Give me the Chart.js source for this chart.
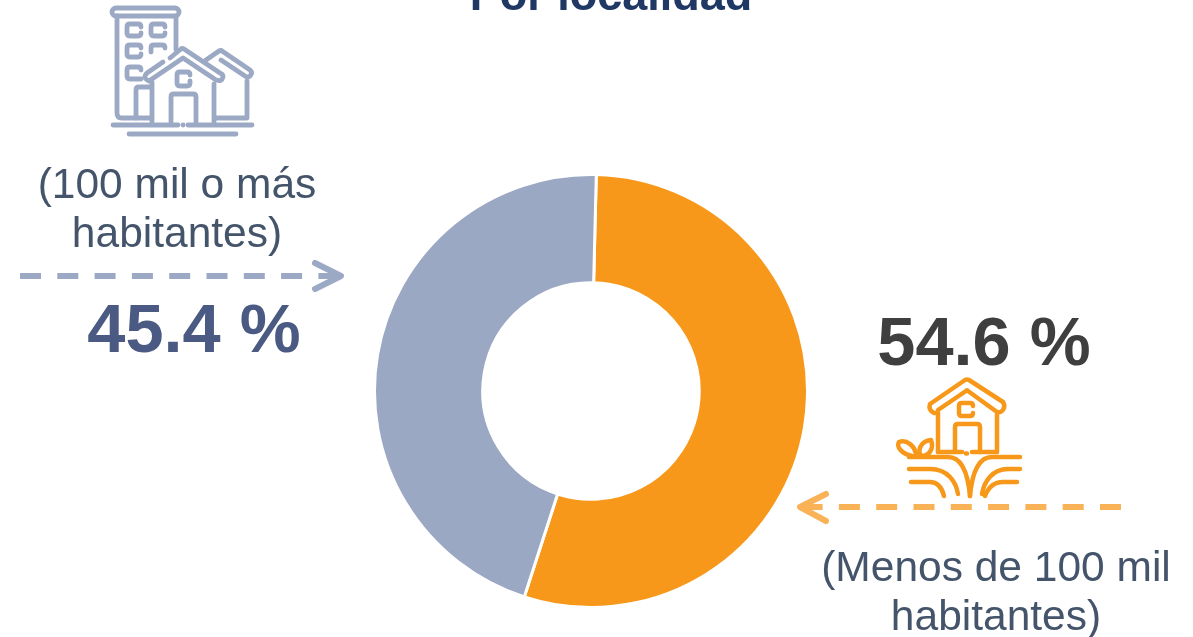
<!DOCTYPE html>
<html>
<head>
<meta charset="utf-8">
<script src="https://cdn.jsdelivr.net/npm/chart.js@4"></script>
<style>
html, body { margin: 0; padding: 0; background: #fff; overflow: hidden; }
#page { position: relative; width: 1193px; height: 637px; overflow: hidden; font-family: "Liberation Sans", Arial, sans-serif; }
#chartBox { position: absolute; left: 373px; top: 173px; width: 436px; height: 436px; }
#art { position: absolute; left: 0; top: 0; }
.txt { position: absolute; text-align: center; white-space: nowrap; }
.label { font-size: 42.500px; line-height: 49px; color: #44546A; }
.big { font-size: 68.500px; line-height: 80px; font-weight: bold; }
</style>
</head>
<body>
<div id="page">
  <div id="chartBox"><canvas id="chart1"></canvas></div>

  <svg id="art" width="1193" height="637" fill="none" stroke-linecap="round" stroke-linejoin="round">
    <!-- icono ciudad -->
    <g stroke="#9CA9C5" stroke-width="4.800">
      <rect x="112" y="8" width="67" height="8" rx="4"/>
      <path d="M117 16V113q0 5 5 5H150M176 16V50"/>
      <path d="M141 27q0-3-3-3H130q-3 0-3 3V33q0 3 3 3H138q3 0 3-3"/>
      <path d="M165 27q0-3-3-3H154q-3 0-3 3V33q0 3 3 3H162q3 0 3-3"/>
      <path d="M141 48q0-3-3-3H130q-3 0-3 3V54q0 3 3 3H138q3 0 3-3"/>
      <path d="M165 48q0-3-3-3H154q-3 0-3 3V52"/>
      <path d="M141 70q0-3-3-3H130q-3 0-3 3V76q0 3 3 3H141"/>
      <path d="M150 87H139q-3 0-3 3V118"/>
      <path d="M163 62L147 73q-5 5 2 8L183 58 216 80q6 2 7-3 0-3-3-4L184 49q-2-1-3 0L170 58"/>
      <path d="M152 82V122M214 84V122"/>
      <path d="M190 75q0-3-3-3H180q-3 0-3 3V83q0 3 3 3H187q3 0 3-3V81"/>
      <path d="M171 122V97q0-3 3-3H193q3 0 3 3V122"/>
      <path d="M206 60L219 51q2-1 3 0L250 70q3 3 0 6-2 2-5 0L221 60"/>
      <path d="M247 81V118H216"/>
      <path d="M113 125H178M188 125H252M183 125H183.100"/>
      <path d="M129 134H236"/>
    </g>

    <!-- icono campo -->
    <g stroke="#F7981A" stroke-width="4.500">
      <path d="M938 413H934q-6-3-4-9L965 380q2-1 4 0L1003 402q3 5-1 9-2 2-5 1L968 391q-1-1-2 0L938 410"/>
      <path d="M938 413V452M997 414V452"/>
      <path d="M973 406q0-3-3-3H962q-3 0-3 3V413q0 3 3 3H970q3 0 3-3"/>
      <path d="M955 452V427q0-3 3-3H977q3 0 3 3V452"/>
      <path d="M938 452H962M966 453.500H967M972 452H997"/>
      <path d="M909 457H948C962 457 968 474 970 496"/>
      <path d="M1020 457H992C978 457 972 474 970 496"/>
      <path d="M909 469H930C948 469 956 482 958 494"/>
      <path d="M1020 469H1008C992 469 984 482 982 494"/>
      <path d="M911 482H930C938 482 942 488 944 496"/>
      <path d="M1017 482H1003C994 482 988 488 985 496"/>
      <path d="M912 456C902 454 896 447 899 442 906 439 916 446 916 456"/>
      <path d="M921 456C917 450 921 441 931 440 934 448 930 456 921 456"/>
    </g>

    <!-- flechas -->
    <path d="M20 276H340" stroke="#9CA9C5" stroke-width="6" stroke-dasharray="21 16.300" stroke-linecap="butt"/>
    <path d="M315 263L341 276 315 289" stroke="#9CA9C5" stroke-width="6"/>
    <path d="M1121 507H801" stroke="#F9B256" stroke-width="6" stroke-dasharray="21 16.300" stroke-linecap="butt"/>
    <path d="M826 494L800 507 826 521" stroke="#F9B256" stroke-width="6"/>
  </svg>

  <div class="txt" style="left:411px; width:400px; top:-30px; font-size:45px; line-height:50px; font-weight:bold; color:#1F3864;">Por localidad</div>
  <div class="txt label" style="left:27px; width:300px; top:159px;">(100 mil o más<br>habitantes)</div>
  <div class="txt big" style="left:44px; width:300px; top:289px; color:#4A5A82;">45.4 %</div>
  <div class="txt big" style="left:834px; width:300px; top:302px; color:#3F3F3F;">54.6 %</div>
  <div class="txt label" style="left:796px; width:400px; top:542px;">(Menos de 100 mil<br>habitantes)</div>
</div>

<script>
// datos
var localidades = ["Menos de 100 mil habitantes", "100 mil o más habitantes"];
var porcentajes = [54.6, 45.4];
var colores = ["#F7981A", "#9BA8C3"];

var grafica = new Chart(document.getElementById("chart1"), {
    type: "doughnut",
    data: {
        labels: localidades,
        datasets: [{
            data: porcentajes,
            backgroundColor: colores,
            borderColor: "#ffffff",
            borderWidth: 3
        }]
    },
    options: {
        responsive: true,
        maintainAspectRatio: false,
        animation: false,
        rotation: 1.4,
        cutout: "50%",
        plugins: {
            legend: { display: false },
            tooltip: { enabled: false }
        }
    }
});
</script>
</body>
</html>
